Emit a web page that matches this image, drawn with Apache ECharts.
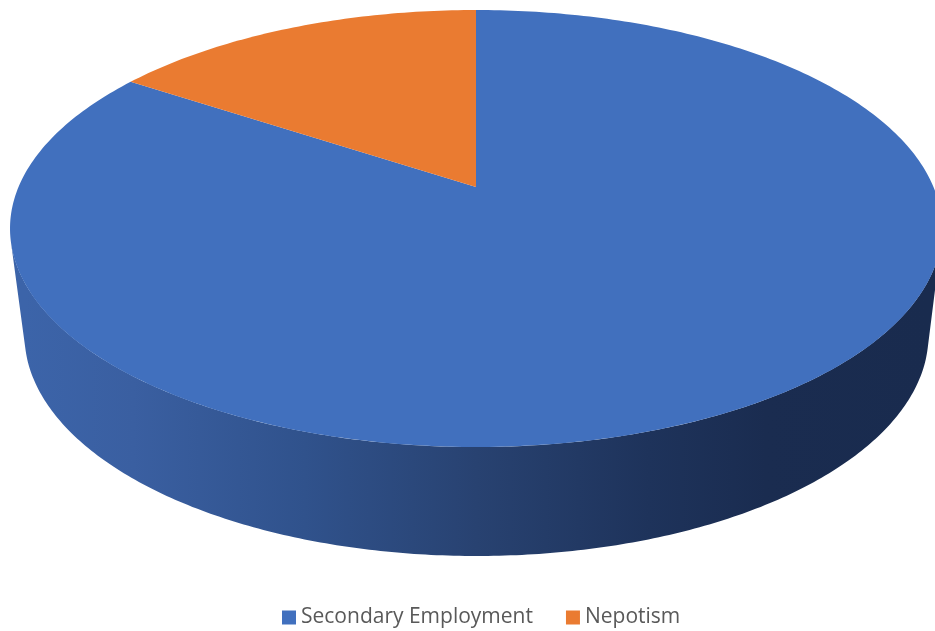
<!DOCTYPE html>
<html>
<head>
<meta charset="utf-8">
<title>Secondary Employment and Nepotism</title>
<script src="https://cdn.jsdelivr.net/npm/echarts@6/dist/echarts.min.js"></script>
<style>
  html, body { margin: 0; padding: 0; background: #ffffff; }
  #chart { width: 935px; height: 631px; }
</style>
</head>
<body>
<div id="chart"></div>
<script>
// Share of each category
const categories = ['Secondary Employment', 'Nepotism'];
const shares = [84.3, 15.7];
const sliceColors = ['#4170BE', '#EA7B31'];

// Shading along the visible rim, left to right
const rimStops = [
  [0.00, '#3C64A9'],
  [0.12, '#3A5FA1'],
  [0.31, '#30528C'],
  [0.50, '#284271'],
  [0.69, '#1E335B'],
  [0.82, '#1A2C50'],
  [1.00, '#192B4E']
];

// Perspective view of the disc: the circle's centre sits above the middle of its outline
const topFace = { x: 476, y: 187, a: 457.5, b: 210.6, k: 0.19 };
const topOutline = { x: 476, y: 228, rx: 466, ry: 219 };
const baseOutline = { x: 476.5, y: 335, rx: 452, ry: 221 };
const rimTangentDeg = 3.45;

const total = shares.reduce((sum, v) => sum + v, 0);

// Project a clockwise angle (0 = twelve o'clock) from the unit circle on to the top face
function project(theta, radius) {
  const u = Math.sin(theta) * radius;
  const v = Math.cos(theta) * radius;
  const w = 1 + topFace.k * v;
  return [topFace.x + topFace.a * u / w, topFace.y - topFace.b * v / w];
}

function slicePoints(startShare, share) {
  const start = startShare / total * Math.PI * 2;
  const sweep = share / total * Math.PI * 2;
  const steps = Math.max(8, Math.ceil(share * 4));
  const points = [project(0, 0)];
  for (let i = 0; i <= steps; i++) {
    points.push(project(start + sweep * i / steps, 1));
  }
  return points;
}

// Outline of the rim: the lower half of the base, closed along the top outline
function rimPoints() {
  const t = rimTangentDeg * Math.PI / 180;
  const steps = 240;
  const points = [];
  for (let i = 0; i <= steps; i++) {
    const phi = t + (Math.PI - 2 * t) * i / steps;
    points.push([baseOutline.x - baseOutline.rx * Math.cos(phi), baseOutline.y + baseOutline.ry * Math.sin(phi)]);
  }
  for (let i = steps; i >= 0; i--) {
    const phi = t + (Math.PI - 2 * t) * i / steps;
    points.push([topOutline.x - topOutline.rx * Math.cos(phi), topOutline.y + topOutline.ry * Math.sin(phi)]);
  }
  return points;
}

function sliceSeries(index) {
  const before = shares.slice(0, index).reduce((sum, v) => sum + v, 0);
  return {
    type: 'custom',
    name: categories[index],
    coordinateSystem: 'none',
    silent: true,
    itemStyle: { color: sliceColors[index] },
    data: [[shares[index]]],
    renderItem(params, api) {
      const children = [];
      if (index === 0) {
        children.push({
          type: 'polygon',
          shape: { points: rimPoints() },
          style: {
            fill: new echarts.graphic.LinearGradient(
              baseOutline.x - baseOutline.rx, 0, baseOutline.x + baseOutline.rx, 0,
              rimStops.map(s => ({ offset: s[0], color: s[1] })), true)
          }
        });
      }
      children.push({
        type: 'polygon',
        shape: { points: slicePoints(before, api.value(0)) },
        style: { fill: api.visual('color') }
      });
      return { type: 'group', children };
    }
  };
}

const chart = echarts.init(document.getElementById('chart'), null, { renderer: 'canvas' });
chart.setOption({
  animation: false,
  backgroundColor: '#ffffff',
  legend: {
    data: categories,
    left: 282,
    top: 607,
    icon: 'rect',
    itemWidth: 14,
    itemHeight: 14,
    itemGap: 33,
    padding: 0,
    selectedMode: false,
    textStyle: {
      color: '#595959',
      fontFamily: '"Open Sans", sans-serif',
      fontSize: 21,
      padding: [10, 0, 0, 0]
    }
  },
  series: categories.map((_, i) => sliceSeries(i))
});
</script>
</body>
</html>
